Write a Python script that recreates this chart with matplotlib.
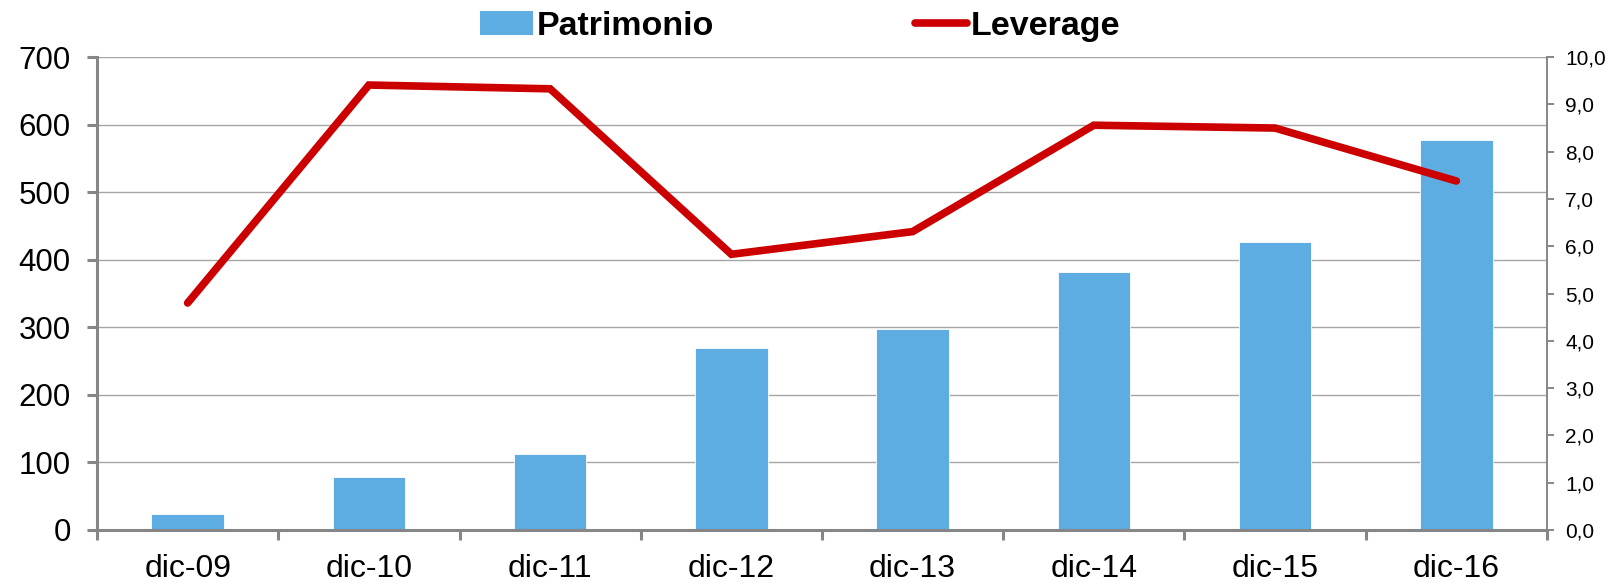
import numpy as np
import matplotlib.pyplot as plt
from matplotlib.patches import Patch
from matplotlib.lines import Line2D
from matplotlib.ticker import FuncFormatter, FixedLocator

plt.rcParams['font.family'] = ['Liberation Sans', 'DejaVu Sans']

# data
periods = ['dic-09', 'dic-10', 'dic-11', 'dic-12', 'dic-13', 'dic-14', 'dic-15', 'dic-16']
patrimonio = [23, 78, 113, 270, 298, 382, 427, 577]
leverage = [4.80, 9.41, 9.33, 5.83, 6.31, 8.56, 8.50, 7.38]

bar_color = '#5eade2'
line_color = '#cc0000'
spine_gray = '#868686'

fig = plt.figure(figsize=(16.17, 5.83), dpi=100)
ax = fig.add_axes([0.060, 0.091, 0.8967, 0.811])
ax2 = ax.twinx()

x = np.arange(len(periods))
ax.bar(x, patrimonio, width=0.40, color=bar_color, edgecolor='white', linewidth=0.6, zorder=2)
ax2.plot(x, leverage, color=line_color, lw=5.5, solid_capstyle='round', solid_joinstyle='miter', zorder=3)

ax.set_xlim(-0.5, len(periods) - 0.5)
ax.set_ylim(0, 700)
ax2.set_ylim(0, 10)
ax.set_yticks(range(0, 701, 100))
ax2.set_yticks(range(0, 11))
ax2.yaxis.set_major_formatter(FuncFormatter(lambda v, p: f'{v:.1f}'.replace('.', ',')))

ax.grid(axis='y', color='#a6a6a6', lw=1.0, zorder=0)
ax.set_axisbelow(True)

ax.set_xticks(x)
ax.set_xticklabels(periods)
ax.xaxis.set_minor_locator(FixedLocator(np.arange(-0.5, len(periods), 1.0)))
ax.tick_params(axis='x', which='major', length=0, pad=17, labelsize=23)
ax.tick_params(axis='x', which='minor', length=7, width=2.2, color=spine_gray, direction='out')
ax.tick_params(axis='y', length=7, width=2.2, color=spine_gray, pad=12, labelsize=22.5)
ax2.tick_params(axis='y', length=5, width=1.4, color=spine_gray, pad=8, labelsize=15)

for a in (ax, ax2):
    a.spines['top'].set_visible(False)
    a.spines['left'].set_color(spine_gray)
    a.spines['bottom'].set_color(spine_gray)
    a.spines['right'].set_color(spine_gray)
ax.spines['left'].set_linewidth(2.2)
ax.spines['bottom'].set_linewidth(2.2)
ax2.spines['left'].set_visible(False)
ax2.spines['bottom'].set_visible(False)
ax.spines['right'].set_visible(False)
ax2.spines['right'].set_linewidth(1.4)

handles = [Patch(facecolor=bar_color, edgecolor='none'),
           Line2D([0], [0], color=line_color, lw=5.5, solid_capstyle='round')]
fig.legend(handles, ['Patrimonio', 'Leverage'], ncol=2, loc='center',
           bbox_to_anchor=(0.495, 0.955), frameon=False, handlelength=1.55,
           handletextpad=0.1, columnspacing=5.9,
           prop={'weight': 'bold', 'size': 24.5})

fig.savefig('out.png', dpi=100)
